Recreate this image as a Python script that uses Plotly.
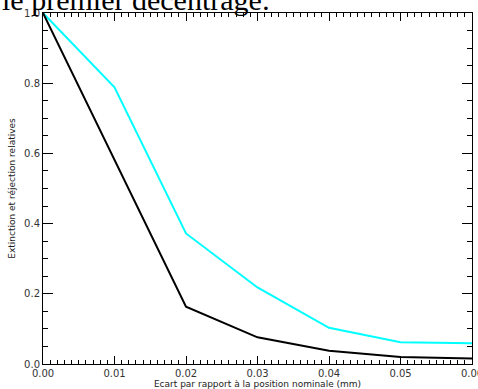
import plotly.graph_objects as go

x_vals = [0.00, 0.01, 0.02, 0.03, 0.04, 0.05, 0.06]
extinction = [1.0, 0.583, 0.163, 0.076, 0.038, 0.020, 0.016]
rejection = [1.0, 0.788, 0.372, 0.218, 0.103, 0.062, 0.059]

x_ticks = [0.00, 0.01, 0.02, 0.03, 0.04, 0.05, 0.06]
x_ticklabels = ["0.00", "0.01", "0.02", "0.03", "0.04", "0.05", "0.06"]
y_ticks = [0.0, 0.2, 0.4, 0.6, 0.8, 1.0]
y_ticklabels = ["0.0", "0.2", "0.4", "0.6", "0.8", "1.0"]

title_text = "le premier décentrage:"
x_title = "Ecart par rapport à la position nominale (mm)"
y_title = "Extinction et réjection relatives"

fig = go.Figure()
fig.add_trace(go.Scatter(x=x_vals, y=rejection, mode="lines",
                         line=dict(color="#00FFFF", width=2), showlegend=False))
fig.add_trace(go.Scatter(x=x_vals, y=extinction, mode="lines",
                         line=dict(color="#000000", width=2), showlegend=False))

tick_font = dict(family="DejaVu Sans", size=10, color="#333333")
title_font = dict(family="DejaVu Sans", size=9, color="#222222")

fig.update_layout(
    width=478, height=389,
    margin=dict(l=43, r=6, t=13, b=25),
    plot_bgcolor="white", paper_bgcolor="white",
    xaxis=dict(range=[0, 0.06], tickvals=x_ticks, ticktext=x_ticklabels,
               ticks="inside", ticklen=8, tickwidth=1, tickcolor="black",
               showline=True, linecolor="black", linewidth=1, mirror="allticks",
               showgrid=False, zeroline=False, automargin=False, tickfont=tick_font,
               ticklabeloverflow="allow",
               minor=dict(tickvals=[i / 1000 for i in range(61)], ticks="inside",
                          ticklen=4, tickcolor="black", showgrid=False),
               title=dict(text=x_title, font=title_font, standoff=1)),
    yaxis=dict(range=[0, 1], tickvals=y_ticks, ticktext=y_ticklabels,
               ticks="inside", ticklen=10, tickwidth=1, tickcolor="black",
               showline=True, linecolor="black", linewidth=1, mirror="allticks",
               showgrid=False, zeroline=False, automargin=False, tickfont=tick_font,
               ticklabeloverflow="allow",
               minor=dict(tickvals=[i / 20 for i in range(21)], ticks="inside",
                          ticklen=5, tickcolor="black", showgrid=False),
               title=dict(text=y_title, font=title_font, standoff=6)),
)

fig.add_annotation(text=title_text, xref="paper", yref="paper", x=-0.1, y=1,
                   xanchor="left", yanchor="bottom", yshift=-5, showarrow=False,
                   font=dict(family="Liberation Serif", size=30, color="black"))

fig.write_html("out.html", config={"displayModeBar": False},
               post_script="document.body.style.margin='0';document.body.style.overflow='hidden';")
